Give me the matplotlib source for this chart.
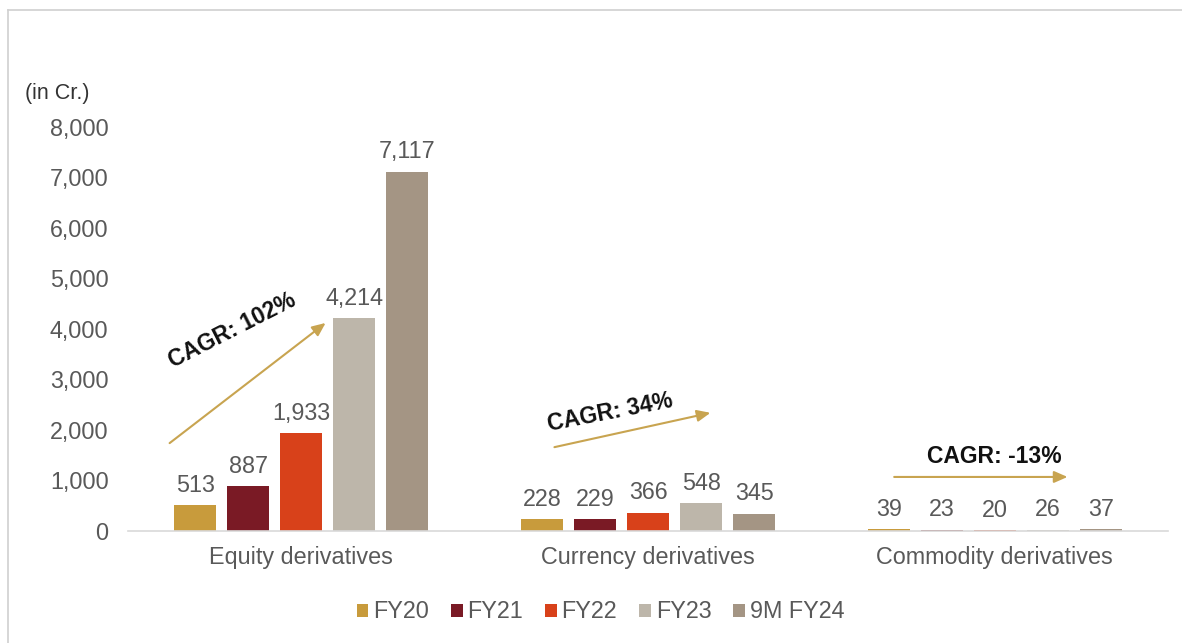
import numpy as np
import matplotlib.pyplot as plt
from matplotlib.lines import Line2D

plt.rcParams['font.family'] = ['Liberation Sans', 'DejaVu Sans']

#%% data
categories = ['Equity derivatives', 'Currency derivatives', 'Commodity derivatives']
series = ['FY20', 'FY21', 'FY22', 'FY23', '9M FY24']
fy20 = [513, 228, 39]
fy21 = [887, 229, 23]
fy22 = [1933, 366, 20]
fy23 = [4214, 548, 26]
fy24_9m = [7117, 345, 37]
values = [fy20, fy21, fy22, fy23, fy24_9m]
colors = ['#C89B3C', '#7A1A25', '#D8411A', '#BDB6AA', '#A49584']

cagr_text = ['CAGR: 102%', 'CAGR: 34%', 'CAGR: -13%']
# arrow tail / head in data units, text centre and angle
arrow_tail = [(-0.38, 1740), (0.73, 1660), (1.71, 1070)]
arrow_head = [(0.07, 4120), (1.18, 2340), (2.21, 1070)]
text_pos = [(-0.20, 3960), (0.89, 2340), (2.00, 1480)]
text_rot = [27, 11, 0]

#%% plot
fig = plt.figure(figsize=(11.82, 6.43), dpi=100)
ax = fig.add_axes([0.1083, 0.1742, 0.8799, 0.6283])

fs = 16.8
x = np.arange(len(categories))
w = 0.121
step = 0.153
for i, (s, v, c) in enumerate(zip(series, values, colors)):
    xs = x + (i - 2) * step
    bars = ax.bar(xs, v, width=w, color=c, label=s, zorder=1)
    for b, val in zip(bars, v):
        ax.annotate(f'{val:,}', (b.get_x() + b.get_width() / 2, b.get_height()),
                    xytext=(0, 6), textcoords='offset points',
                    ha='center', va='bottom', fontsize=fs, color='#595959')

for t, tail, head, tp, rot in zip(cagr_text, arrow_tail, arrow_head, text_pos, text_rot):
    ax.annotate('', xy=head, xytext=tail,
                arrowprops=dict(arrowstyle='-|>,head_length=0.8,head_width=0.35',
                                color='#C8A450', lw=1.5, shrinkA=0, shrinkB=0))
    ax.text(tp[0], tp[1], t, rotation=rot, ha='center', va='center',
            fontsize=16.5, fontweight='bold', color='#111111', rotation_mode='anchor')

ax.set_xlim(-0.5, 2.5)
ax.set_ylim(0, 8000)
ax.set_yticks(np.arange(0, 8001, 1000))
ax.set_yticklabels([f'{v:,}' for v in range(0, 8001, 1000)])
ax.set_xticks(x)
ax.set_xticklabels(categories)
ax.tick_params(axis='both', length=0, labelsize=fs, labelcolor='#595959')
ax.tick_params(axis='y', pad=14)
ax.tick_params(axis='x', pad=11)
for sp in ['top', 'right', 'left']:
    ax.spines[sp].set_visible(False)
ax.spines['bottom'].set_color('#D9D9D9')
ax.spines['bottom'].set_linewidth(1.2)
ax.spines['bottom'].set_zorder(3)

fig.text(25 / 1182, 1 - 93 / 643, '(in Cr.)', fontsize=15.5, color='#333333',
         ha='left', va='center')

ax.legend(loc='center', bbox_to_anchor=(0.508, 1 - 612 / 643),
          bbox_transform=fig.transFigure, ncol=5, frameon=False,
          fontsize=fs, labelcolor='#595959', handlelength=0.5, handleheight=0.5,
          handletextpad=0.2, columnspacing=0.95)

# frame lines of the original picture
fig.add_artist(Line2D([8 / 1182, 1], [1 - 10 / 643, 1 - 10 / 643], color='#D0D0D0', lw=1.2,
                      transform=fig.transFigure))
fig.add_artist(Line2D([8 / 1182, 8 / 1182], [0, 1 - 10 / 643], color='#D0D0D0', lw=1.2,
                      transform=fig.transFigure))

plt.savefig('out.png', dpi=100)
